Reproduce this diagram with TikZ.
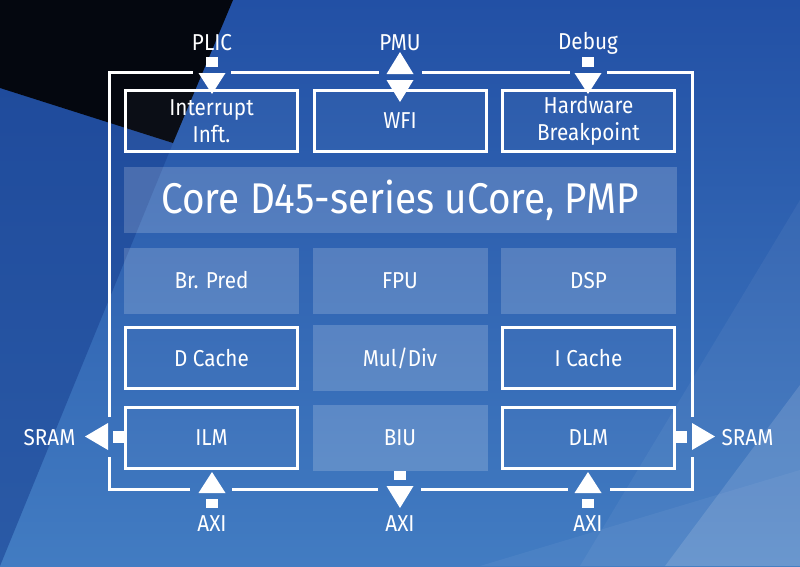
\documentclass[tikz,border=0pt]{standalone}
\usepackage{fontspec}
\setmainfont{Fira Sans}[FakeStretch=0.9]
\definecolor{bgtop}{HTML}{2250A5}
\definecolor{bgbot}{HTML}{427CC2}
\definecolor{nightblack}{HTML}{04070F}
\definecolor{darkwedge}{HTML}{1B4494}
\begin{document}
\begin{tikzpicture}[x=1pt,y=-1pt,
  lbl/.style={text=white,font=\fontsize{23}{26}\selectfont,inner sep=0pt},
  boxtxt/.style={text=white,font=\fontsize{23}{27}\selectfont,align=center},
  outbox/.style={draw=white,line width=3pt,fill=white,fill opacity=0.03,text opacity=1,
    minimum width=172pt,minimum height=61pt,inner sep=0pt,boxtxt},
  fillbox/.style={fill=white,fill opacity=0.18,text opacity=1,
    minimum width=175pt,minimum height=66pt,inner sep=0pt,boxtxt},
  frameline/.style={draw=white,line width=3pt},
  whitemark/.style={fill=white},
]
\useasboundingbox (0,0) rectangle (800,566);
% background
\shade[top color=bgtop,bottom color=bgbot] (0,0) rectangle (800,566);
\fill[darkwedge,opacity=0.6] (0,88) -- (173,143) -- (0,566) -- cycle;
\fill[white,opacity=0.05] (800,200) -- (800,566) -- (580,566) -- cycle;
\fill[white,opacity=0.13] (800,385) -- (800,566) -- (665,566) -- cycle;
\fill[white,opacity=0.05] (800,470) -- (800,566) -- (480,566) -- cycle;
\fill[nightblack] (0,0) -- (233,0) -- (173,143) -- (0,88) -- cycle;

% outer frame with gaps
\path[frameline]
  (190,489) -- (109,489) -- (109,457)
  (109,417) -- (109,72) -- (193,72)
  (231,72) -- (379,72)
  (422,72) -- (570,72)
  (607,72) -- (692,72) -- (692,417)
  (692,457) -- (692,489) -- (610,489)
  (568,489) -- (421,489)
  (378,489) -- (232,489);

% row 1
\node[outbox] (intr) at (211.5,121) {Interrupt\\Inft.};
\node[outbox] (wfi) at (400,121) {WFI};
\node[outbox] (hwbp) at (588.5,121) {Hardware\\Breakpoint};
% core
\node[fill=white,fill opacity=0.18,text opacity=1,text=white,minimum width=553pt,minimum height=66pt,inner sep=0pt,
  font=\fontsize{43}{48}\selectfont] (core) at (400,200) {Core D45-series uCore, PMP};
% row 2
\node[fillbox] (brpred) at (211.5,280.5) {Br. Pred};
\node[fillbox] (fpu) at (400,280.5) {FPU};
\node[fillbox] (dsp) at (588.5,280.5) {DSP};
% row 3
\node[outbox] (dcache) at (211.5,358) {D Cache};
\node[fillbox] (muldiv) at (400,358) {Mul/Div};
\node[outbox] (icache) at (588.5,358) {I Cache};
% row 4
\node[outbox] (ilm) at (211.5,437.5) {ILM};
\node[fillbox] (biu) at (400,437.5) {BIU};
\node[outbox] (dlm) at (588.5,437.5) {DLM};

% top interfaces
\node[lbl] (plic) at (212,43) {PLIC};
\node[lbl] (pmu) at (400,43) {PMU};
\node[lbl] (debug) at (588,43) {Debug};
\fill[whitemark] (206,57) rectangle (218,67);
\fill[whitemark] (198.5,73) -- (225.5,73) -- (212,94) -- cycle;
\fill[whitemark] (386.5,74) -- (413.5,74) -- (400,52) -- cycle;
\fill[whitemark] (386.5,80) -- (413.5,80) -- (400,102) -- cycle;
\fill[whitemark] (582,57) rectangle (594,67);
\fill[whitemark] (574.5,73) -- (601.5,73) -- (588,94) -- cycle;

% side interfaces
\node[lbl] (sraml) at (49.5,438) {SRAM};
\node[lbl] (sramr) at (747.5,438) {SRAM};
\fill[whitemark] (113,431) rectangle (124,443);
\fill[whitemark] (108,423) -- (108,450) -- (85,436.5) -- cycle;
\fill[whitemark] (676,431) rectangle (687,443);
\fill[whitemark] (692,423) -- (692,450) -- (715,436.5) -- cycle;

% bottom interfaces
\node[lbl] (axil) at (212,524) {AXI};
\node[lbl] (axim) at (400,524) {AXI};
\node[lbl] (axir) at (588,524) {AXI};
\fill[whitemark] (206,499) rectangle (218,508);
\fill[whitemark] (198.5,493) -- (225.5,493) -- (212,472) -- cycle;
\fill[whitemark] (394,471) rectangle (406,480);
\fill[whitemark] (386.5,486) -- (413.5,486) -- (400,508) -- cycle;
\fill[whitemark] (582,499) rectangle (594,508);
\fill[whitemark] (574.5,493) -- (601.5,493) -- (588,472) -- cycle;
\end{tikzpicture}
\end{document}
